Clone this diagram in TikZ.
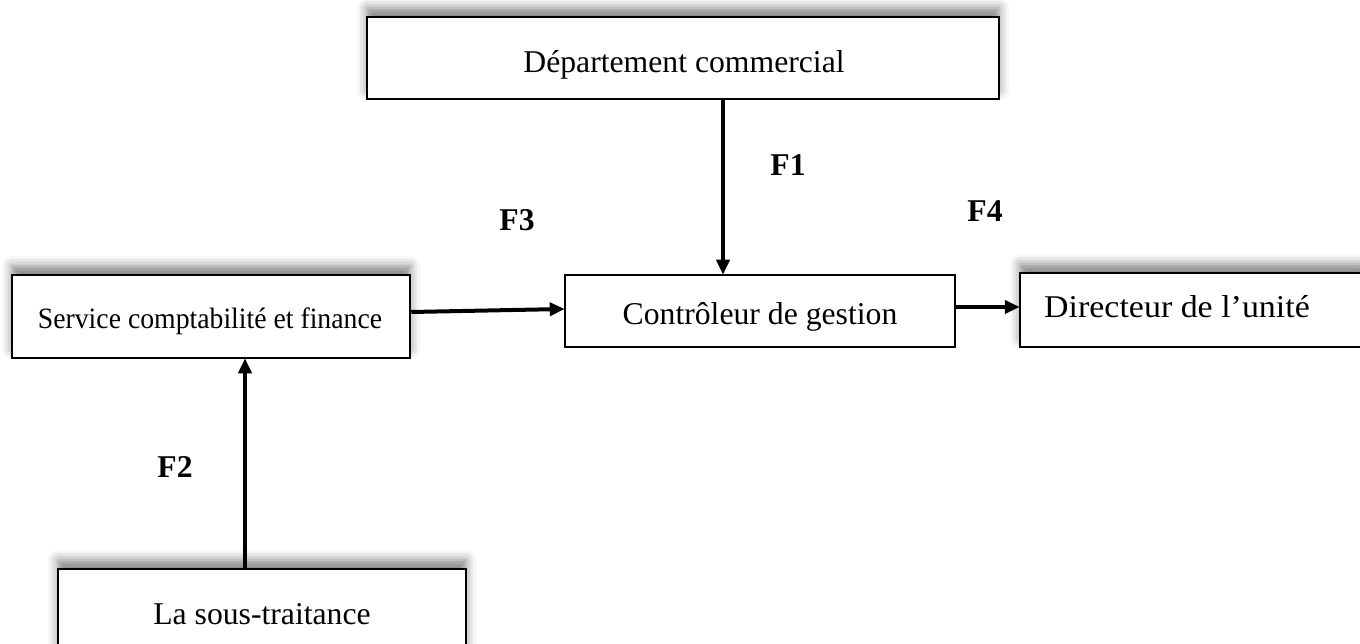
\documentclass[tikz,border=0pt]{standalone}
\usepackage{fontspec}
\setmainfont{Liberation Serif}
\usetikzlibrary{arrows.meta,calc,shadows.blur}

\tikzset{
  box/.style={draw=black, line width=2.5pt, fill=white, inner sep=0pt},
  shadowed/.style={blur shadow={shadow xshift=0pt, shadow yshift=9pt,
              shadow blur radius=10pt, shadow opacity=50}},
  txt/.style={inner sep=0pt, anchor=base, font=\fontsize{31.7}{38}\selectfont},
  flowlabel/.style={inner sep=0pt, anchor=base, font=\fontsize{31.7}{38}\selectfont\bfseries},
  flow/.style={line width=4pt, -{Triangle[length=15pt,width=13pt]}, shorten >=-1pt}
}

\begin{document}
\begin{tikzpicture}[x=1pt, y=-1pt]
  \useasboundingbox (0,0) rectangle (1360,644);

  % boxes
  \node[box, shadowed, minimum width=632pt, minimum height=82pt] (dept) at (683,58) {};
  \node[box, shadowed, minimum width=398pt, minimum height=83pt] (serv) at (211,316.5) {};
  \node[box, minimum width=390pt, minimum height=72pt] (ctrl) at (760,311) {};
  \node[box, shadowed, minimum width=345pt, minimum height=74pt] (dir) at (1192.5,310) {};
  \node[box, shadowed, minimum width=408pt, minimum height=92pt] (sous) at (262,615) {};

  % box texts (two of them are condensed / expanded horizontally)
  \node[txt] (depttext) at (684,73) {Département commercial};
  \node[txt, font=\fontsize{29.5}{36}\selectfont] (servtext) at (210,329) {\scalebox{0.94}[1]{Service comptabilité et finance}};
  \node[txt] (ctrltext) at (760,325) {Contrôleur de gestion};
  \node[txt] (dirtext) at (1177,317) {\scalebox{1.07}[1]{Directeur de l’unité}};
  \node[txt] (soustext) at (262,624) {La sous-traitance};

  % flows
  \coordinate (f1s) at ($(dept.south)+(40,0)$);
  \draw[flow] (f1s) -- (f1s |- ctrl.north);
  \coordinate (f2s) at ($(sous.north)+(-17,0)$);
  \draw[flow] (f2s) -- (f2s |- serv.south);
  \draw[flow] ($(serv.east)+(0,-4.5)$) -- ($(ctrl.west)+(0,-2)$);
  \coordinate (f4s) at ($(ctrl.east)+(0,-4)$);
  \draw[flow] (f4s) -- (f4s -| dir.west);

  % labels
  \node[flowlabel] (l1) at (788,176) {F1};
  \node[flowlabel] (l2) at (175,477) {F2};
  \node[flowlabel] (l3) at (517,231) {F3};
  \node[flowlabel] (l4) at (985,222) {F4};
\end{tikzpicture}
\end{document}
